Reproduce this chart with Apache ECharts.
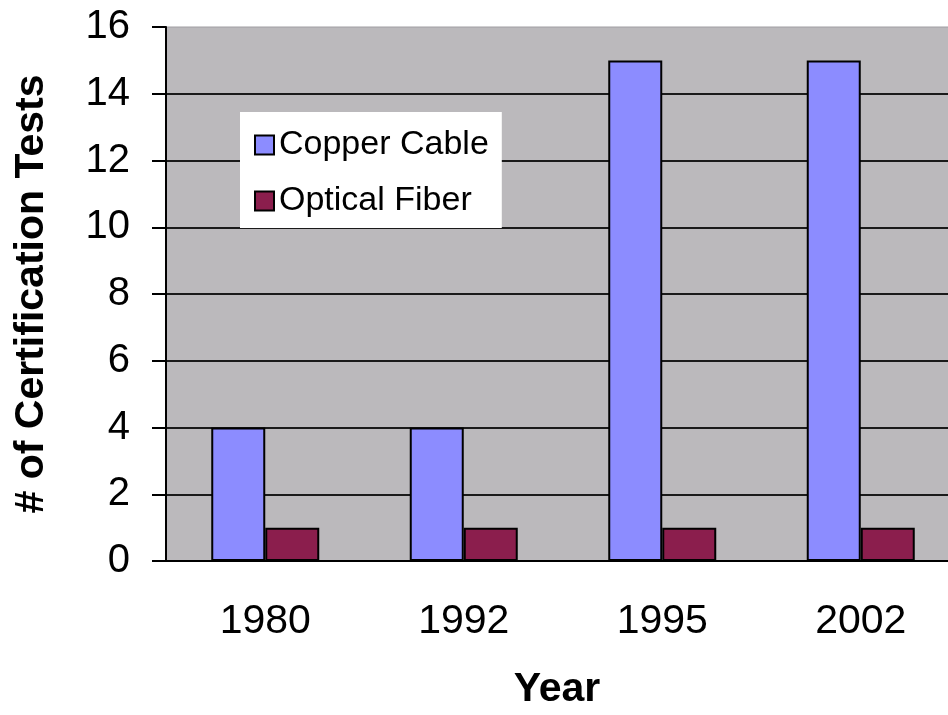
<!DOCTYPE html>
<html>
<head>
<meta charset="utf-8">
<script src="https://cdn.jsdelivr.net/npm/echarts@6/dist/echarts.min.js"></script>
<style>
  html, body { margin: 0; padding: 0; background: #fff; overflow: hidden; }
  #chart { width: 960px; height: 715px; }
</style>
</head>
<body>
<div id="chart"></div>
<script>
const years = ['1980', '1992', '1995', '2002'];
const copperCable = [4, 4, 15, 15];
const opticalFiber = [1, 1, 1, 1];

const font = 'Arial, "Liberation Sans", sans-serif';

function getOption() {
    let option = {
        animation: false,
        backgroundColor: '#fff',
        textStyle: { fontFamily: font },
        grid: {
            show: true,
            left: 166,
            top: 27,
            bottom: 154,
            right: 0,
            backgroundColor: '#bbb9bc',
            borderColor: '#a09ea2',
            borderWidth: 1
        },
        legend: {
            orient: 'vertical',
            left: 240,
            top: 112,
            backgroundColor: '#fff',
            padding: [16, 13, 10, 14],
            itemGap: 22,
            itemWidth: 19,
            itemHeight: 19,
            itemTextGap: 12,
            icon: 'rect',
            textStyle: { fontSize: 34, lineHeight: 33, color: '#000', fontFamily: font },
            data: ['Copper Cable', 'Optical Fiber']
        },
        xAxis: {
            type: 'category',
            data: years,
            name: 'Year',
            nameLocation: 'middle',
            nameGap: 108,
            nameTextStyle: { fontSize: 41, fontWeight: 'bold', color: '#000', padding: [0, 12, 0, 0] },
            axisLine: { lineStyle: { color: '#000', width: 2 } },
            axisTick: { length: 13, lineStyle: { color: '#000', width: 2 } },
            axisLabel: { fontSize: 41, color: '#000', margin: 40 }
        },
        yAxis: {
            type: 'value',
            min: 0,
            max: 16,
            interval: 2,
            name: '# of Certification Tests',
            nameLocation: 'middle',
            nameGap: 114,
            nameTextStyle: { fontSize: 41, fontWeight: 'bold', color: '#000' },
            axisLine: { show: true, lineStyle: { color: '#000', width: 2 } },
            axisTick: { show: true, length: 14, lineStyle: { color: '#000', width: 2 } },
            axisLabel: { fontSize: 40, color: '#000', margin: 36 },
            splitLine: { show: true, showMaxLine: false, showMinLine: false, lineStyle: { color: '#1a1a1a', width: 2 } }
        }
    };
    option.series = [
        {
            name: 'Copper Cable',
            type: 'bar',
            data: copperCable,
            barWidth: 54,
            barGap: '0%',
            itemStyle: { color: '#8c8cff', borderColor: '#000', borderWidth: 2 }
        },
        {
            name: 'Optical Fiber',
            type: 'bar',
            data: opticalFiber,
            barWidth: 54,
            barGap: '0%',
            itemStyle: { color: '#8b1e4d', borderColor: '#000', borderWidth: 2 }
        }
    ];
    return option;
}

var myChart = echarts.init(document.getElementById('chart'));
myChart.setOption(getOption());
</script>
</body>
</html>
